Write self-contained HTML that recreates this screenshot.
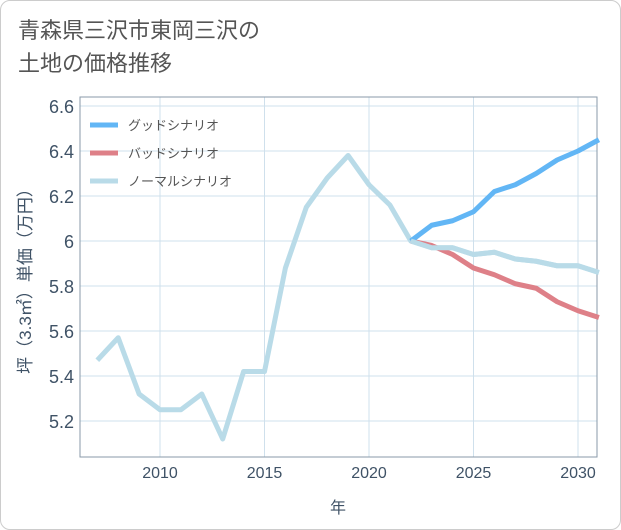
<!DOCTYPE html>
<html><head><meta charset="utf-8"><style>
body{margin:0;background:#fff;font-family:"Liberation Sans","Noto Sans CJK JP",sans-serif;}
#card{position:absolute;left:0;top:0;width:619px;height:528px;border:1px solid #ccc;border-radius:10px;background:#fff;}
#title{position:absolute;left:18px;top:14px;font-size:22px;line-height:33px;color:#555;}
</style></head><body>
<div id="card"></div>
<div id="title">青森県三沢市東岡三沢の<br>土地の価格推移</div>
<svg id="chart" width="621" height="530" style="position:absolute;left:0;top:0" font-family="Liberation Sans, Noto Sans CJK JP, sans-serif"></svg>
<script>
const years=[2007,2008,2009,2010,2011,2012,2013,2014,2015,2016,2017,2018,2019,2020,2021,2022,2023,2024,2025,2026,2027,2028,2029,2030,2031];
const normal=[5.47,5.57,5.32,5.25,5.25,5.32,5.12,5.42,5.42,5.88,6.15,6.28,6.38,6.25,6.16,6.00,5.97,5.97,5.94,5.95,5.92,5.91,5.89,5.89,5.86];
const fYears=[2022,2023,2024,2025,2026,2027,2028,2029,2030,2031];
const good=[6.00,6.07,6.09,6.13,6.22,6.25,6.30,6.36,6.40,6.45];
const bad=[6.00,5.98,5.94,5.88,5.85,5.81,5.79,5.73,5.69,5.66];
const xTicks=[2010,2015,2020,2025,2030];
const yTicks=[5.2,5.4,5.6,5.8,6,6.2,6.4,6.6];
const L=80,R=597,T=97,B=457;
const x=v=>160+(v-2010)*20.9;
const y=v=>421-(v-5.2)*225;
const s=document.getElementById('chart');const NS='http://www.w3.org/2000/svg';
const TC='#3f5266';
function el(t,a,p){const e=document.createElementNS(NS,t);for(const k in a)e.setAttribute(k,a[k]);(p||s).appendChild(e);return e;}
xTicks.forEach(t=>{const l=el('line',{x1:x(t),x2:x(t),y1:T,y2:B,stroke:'#cfe0ec'});


const tx=el('text',{x:x(t),y:478,'text-anchor':'middle','font-size':16,fill:TC});tx.textContent=t;

});
yTicks.forEach(t=>{const l=el('line',{x1:L,x2:R,y1:y(t),y2:y(t),stroke:'#cfe0ec'});


const tx=el('text',{x:74,y:y(t)+7,'text-anchor':'end','font-size':18,fill:TC});tx.textContent=t===6?'6':t.toFixed(1);

});
const fr=el('rect',{x:L,y:T,width:R-L,height:B-T,fill:'none',stroke:'#8a9aa8'});


function line(xs,ys,c,n){const p=el('polyline',{points:xs.map((v,i)=>x(v)+','+y(ys[i])).join(' '),fill:'none',stroke:c,'stroke-width':5,'stroke-linejoin':'round'});

}
line(years,normal,'#b9dbe8','normal-scenario-line');
line(fYears,bad,'#de8088','bad-scenario-line');
line(fYears,good,'#62b6f5','good-scenario-line');
line(fYears,normal.slice(years.indexOf(2022)),'#b9dbe8','normal-scenario-forecast');
[['グッドシナリオ','#62b6f5'],['バッドシナリオ','#de8088'],['ノーマルシナリオ','#b9dbe8']].forEach((d,i)=>{
const g=el('g',{});

el('line',{x1:90,x2:118,y1:125+i*28,y2:125+i*28,stroke:d[1],'stroke-width':5},g);
const t=el('text',{x:128,y:130+i*28,'font-size':13,fill:'#555'},g);t.textContent=d[0];});
const xt=el('text',{x:338,y:513,'text-anchor':'middle','font-size':16,fill:TC});xt.textContent='年';


const yt=el('text',{x:0,y:0,'text-anchor':'middle','font-size':17,fill:TC,transform:'translate(31,277) rotate(-90)'});yt.textContent='坪（3.3㎡）単価（万円）';


</script>
</body></html>
